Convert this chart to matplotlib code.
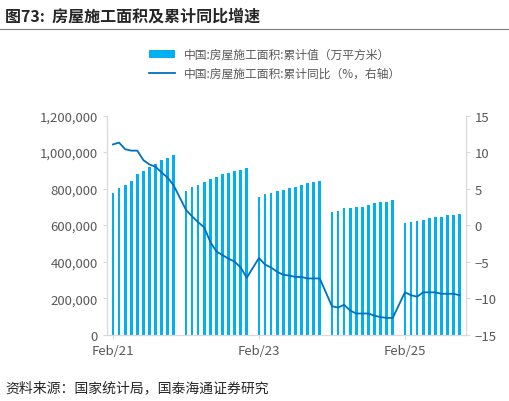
import matplotlib
matplotlib.use("Agg")
import matplotlib.pyplot as plt
import numpy as np

plt.rcParams["font.family"] = ["Noto Sans CJK SC", "DejaVu Sans"]

# monthly cumulative floor space under construction (10k m2), Feb-Dec each year
area_2021 = [778, 804, 820, 844, 878, 894, 920, 935, 954, 970, 985]
area_2022 = [787, 811, 820, 837, 854, 861, 878, 887, 894, 904, 911]
area_2023 = [754, 768, 778, 787, 794, 806, 811, 820, 828, 837, 844]
area_2024 = [670, 678, 694, 694, 702, 702, 711, 720, 728, 728, 737]
area_2025 = [611, 619, 620, 628, 637, 644, 644, 654, 654, 661]

yoy_2021 = [11.05, 11.3, 10.4, 10.2, 10.2, 8.9, 8.3, 8.0, 7.2, 6.5, 5.4]
yoy_2022 = [2.1, 1.2, 0.4, -0.3, -2.3, -3.6, -4.1, -4.6, -5.0, -5.8, -7.2]
yoy_2023 = [-4.5, -5.4, -5.8, -6.4, -6.8, -6.9, -7.1, -7.1, -7.3, -7.3, -7.3]
yoy_2024 = [-11.1, -11.3, -10.9, -11.7, -12.1, -12.1, -12.1, -12.4, -12.6, -12.7, -12.7]
yoy_2025 = [-9.2, -9.6, -9.8, -9.2, -9.2, -9.2, -9.4, -9.4, -9.4, -9.6]

tick_labels = ["Feb/21", "Feb/23", "Feb/25"]

# one slot per month, January slots stay empty
area, yoy = [], []
for a, y in [(area_2021, yoy_2021), (area_2022, yoy_2022), (area_2023, yoy_2023),
             (area_2024, yoy_2024)]:
    area += a + [np.nan]
    yoy += y + [np.nan]
area += area_2025
yoy += yoy_2025
area = np.array(area) * 1000
yoy = np.array(yoy)
x = np.arange(len(area))
ok = ~np.isnan(yoy)

fig = plt.figure(figsize=(5.09, 4.02), dpi=100)
ax = fig.add_axes([0.21, 0.165, 0.705, 0.545])
ax2 = ax.twinx()

ax.bar(x, area, width=0.45, color="#00B0F0", label="中国:房屋施工面积:累计值（万平方米）")
ax2.plot(x[ok], yoy[ok], color="#0070C0", lw=1.3, label="中国:房屋施工面积:累计同比（%，右轴）")

ax.set_ylim(0, 1200000)
ax.set_yticks(np.arange(0, 1200001, 200000))
ax.set_yticklabels([f"{v:,}" for v in range(0, 1200001, 200000)])
ax2.set_ylim(-15, 15)
ax2.set_yticks(range(-15, 16, 5))
ax.set_xlim(-1, len(x))
ax.set_xticks([0, 24, 48])
ax.set_xticklabels(tick_labels)

for a in (ax, ax2):
    for s in a.spines.values():
        s.set_color("#d9d9d9")
    a.tick_params(colors="#595959", labelsize=9.5, length=3, color="#d9d9d9")
ax.spines["top"].set_visible(False)
ax2.spines["top"].set_visible(False)

h1, l1 = ax.get_legend_handles_labels()
h2, l2 = ax2.get_legend_handles_labels()
fig.legend(h1 + h2, l1 + l2, loc="upper center", bbox_to_anchor=(0.54, 0.905),
           frameon=False, fontsize=8.5, labelcolor="#595959", handlelength=2.2)

fig.text(0.01, 0.96, "图73:  房屋施工面积及累计同比增速", fontsize=11.5,
         fontweight="bold", color="#262626", va="center")
fig.add_artist(plt.Line2D([0.0, 1.0], [0.925, 0.925], color="#7f7f7f", lw=0.8))
fig.text(0.01, 0.035, "资料来源：国家统计局，国泰海通证券研究", fontsize=10,
         color="#262626", va="center")

fig.savefig("out.png", dpi=100)
